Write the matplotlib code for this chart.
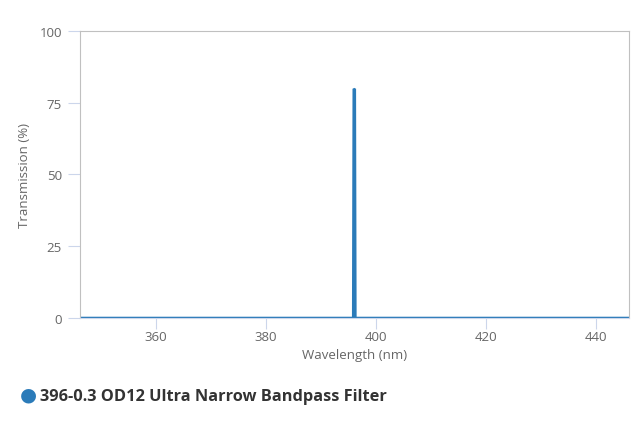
import numpy as np
import matplotlib
matplotlib.use("Agg")
import matplotlib.pyplot as plt

# --------------------------------------------------
# data
# --------------------------------------------------
wavelength = [346.0, 395.0, 395.85, 395.95, 396.05, 396.15, 396.25, 397.0, 446.0]
transmission = [0.0, 0.0, 0.0, 79.6, 79.7, 79.6, 0.0, 0.0, 0.0]
series_name = "396-0.3 OD12 Ultra Narrow Bandpass Filter"

line_color = "#2b7bb9"
grid_color = "#ccd6eb"
text_color = "#666666"

plt.rcParams['font.family'] = ['Open Sans', 'DejaVu Sans']

fig = plt.figure(figsize=(6.4, 4.27), dpi=100)
ax = fig.add_axes([0.125, 0.253, 0.858, 0.672])

ax.plot(wavelength, transmission, color=line_color, lw=1.8, solid_joinstyle='miter')

ax.set_xlim(346.2, 446.0)
ax.set_ylim(0, 100)
ax.set_xticks(np.arange(360, 441, 20))
ax.set_yticks([0, 25, 50, 75, 100])

for s in ax.spines.values():
    s.set_color("#c0c0c0")
    s.set_linewidth(0.8)
ax.spines['bottom'].set_color(grid_color)

ax.tick_params(axis='y', length=9, color=grid_color, labelsize=9.5,
               labelcolor=text_color, pad=4)
ax.tick_params(axis='x', length=8, color=grid_color, labelsize=9.5,
               labelcolor=text_color, pad=1)

ax.set_xlabel("Wavelength (nm)", fontsize=9.5, color=text_color, labelpad=3)
ax.set_ylabel("Transmission (%)", fontsize=9.5, color=text_color, labelpad=6)

# legend
fig.text(0.044, 0.073, "\u25cf", fontsize=14, color=line_color, va='center', ha='center')
fig.text(0.063, 0.070, series_name, fontsize=11.8, fontweight='bold',
         color="#333333", va='center', ha='left', family=['Open Sans', 'DejaVu Sans'])

fig.savefig("out.png", dpi=100)
